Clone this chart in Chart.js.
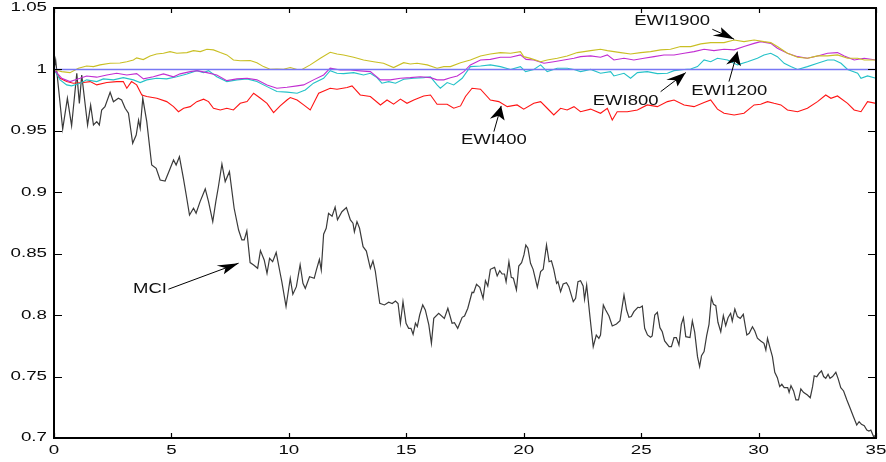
<!DOCTYPE html>
<html>
<head>
<meta charset="utf-8">
<script src="https://cdn.jsdelivr.net/npm/chart.js@4/dist/chart.umd.min.js"></script>
<style>
  html, body { margin: 0; padding: 0; background: #fff; }
  #wrap { width: 886px; height: 462px; position: relative; }
</style>
</head>
<body>
<div id="wrap"><canvas id="c"></canvas></div>
<script>
// Axis ticks
const xTicks = [0, 5, 10, 15, 20, 25, 30, 35];
const xTickLabels = ['0', '5', '10', '15', '20', '25', '30', '35'];
const yTicks = [0.7, 0.75, 0.8, 0.85, 0.9, 0.95, 1, 1.05];
const yTickLabels = ['0.7', '0.75', '0.8', '0.85', '0.9', '0.95', '1', '1.05'];

// Reference level
const refT = [0, 35];
const refV = [1, 1];

// MCI index
const mciT = [0,0.07,0.37,0.57,0.75,0.97,1.08,1.18,1.43,1.56,1.68,1.82,1.93,2.03,2.17,2.39,2.53,2.74,2.88,3.03,3.17,3.35,3.5,3.6,3.67,3.78,3.95,4.16,4.35,4.52,4.73,4.92,5.09,5.2,5.34,5.51,5.63,5.77,5.94,6.05,6.22,6.44,6.58,6.76,6.89,7.0,7.15,7.29,7.47,7.67,7.86,8.0,8.1,8.21,8.35,8.5,8.67,8.79,8.95,9.07,9.18,9.31,9.46,9.63,9.7,9.88,10.06,10.17,10.32,10.48,10.6,10.7,10.88,11.08,11.17,11.3,11.38,11.48,11.59,11.69,11.84,11.97,12.07,12.26,12.45,12.62,12.73,12.79,12.9,13.01,13.16,13.3,13.47,13.58,13.68,13.87,14.07,14.25,14.4,14.54,14.65,14.75,14.86,14.99,15.1,15.2,15.29,15.39,15.47,15.57,15.7,15.81,15.96,16.07,16.17,16.38,16.62,16.77,16.95,17.05,17.19,17.38,17.48,17.62,17.8,17.87,17.99,18.13,18.27,18.37,18.47,18.58,18.76,18.87,18.98,19.08,19.18,19.25,19.37,19.47,19.56,19.69,19.79,19.91,20.01,20.09,20.18,20.29,20.4,20.58,20.72,20.83,20.97,21.08,21.18,21.28,21.4,21.46,21.57,21.68,21.82,21.92,22.11,22.21,22.31,22.42,22.53,22.59,22.68,22.82,22.96,23.09,23.2,23.27,23.39,23.49,23.63,23.77,23.95,24.1,24.27,24.38,24.48,24.58,24.69,24.86,24.94,25.05,25.15,25.27,25.4,25.47,25.58,25.69,25.8,25.9,26.0,26.19,26.29,26.4,26.5,26.61,26.71,26.8,26.9,27.08,27.18,27.28,27.4,27.49,27.57,27.68,27.79,27.89,27.99,28.08,28.18,28.27,28.39,28.5,28.6,28.7,28.81,28.88,28.99,29.1,29.22,29.35,29.5,29.6,29.74,29.84,29.95,30.09,30.23,30.31,30.38,30.49,30.59,30.69,30.8,30.9,30.99,31.09,31.24,31.3,31.38,31.49,31.59,31.7,31.8,31.91,32.08,32.2,32.3,32.37,32.48,32.58,32.68,32.77,32.86,32.96,33.04,33.15,33.29,33.39,33.5,33.62,33.76,33.9,34.04,34.18,34.28,34.38,34.5,34.61,34.7,34.78,34.9,35.0];
const mciV = [1.0,1.0077,0.9515,0.9765,0.9542,0.9968,0.9724,0.9955,0.9548,0.971,0.9548,0.9575,0.9548,0.967,0.9697,0.9814,0.9737,0.9765,0.9751,0.9684,0.9643,0.9399,0.9466,0.9588,0.9521,0.9765,0.9575,0.9222,0.9195,0.91,0.9092,0.9181,0.9263,0.9222,0.929,0.9114,0.8978,0.8815,0.887,0.8829,0.8924,0.9027,0.8924,0.8761,0.8924,0.9045,0.923,0.9087,0.9168,0.887,0.8693,0.8612,0.8612,0.8685,0.8428,0.8408,0.8381,0.8525,0.8449,0.834,0.8463,0.8435,0.851,0.8341,0.8272,0.807,0.83,0.817,0.8232,0.841,0.8259,0.8218,0.8313,0.83,0.8367,0.8453,0.8367,0.8659,0.8707,0.8829,0.8805,0.8879,0.8777,0.8842,0.8875,0.8775,0.8748,0.8679,0.8761,0.8707,0.8557,0.8522,0.8381,0.8441,0.8359,0.8096,0.8083,0.8105,0.8095,0.8115,0.8095,0.7934,0.811,0.7934,0.7893,0.7893,0.7844,0.7934,0.7907,0.8001,0.8083,0.8042,0.792,0.7771,0.7974,0.8015,0.7974,0.8056,0.7934,0.7939,0.7893,0.7982,0.7993,0.8056,0.8186,0.8184,0.8251,0.8227,0.8137,0.8281,0.8237,0.8373,0.8389,0.8319,0.8362,0.8335,0.8335,0.8272,0.8435,0.8308,0.83,0.8205,0.84,0.8427,0.849,0.8571,0.8544,0.8422,0.8373,0.8227,0.8354,0.8373,0.8571,0.8435,0.8443,0.8373,0.8259,0.8273,0.8191,0.8253,0.8264,0.8232,0.811,0.8137,0.8272,0.828,0.8237,0.8129,0.8245,0.7988,0.7743,0.7838,0.7811,0.7838,0.8083,0.8042,0.7993,0.7912,0.7928,0.7955,0.8164,0.8042,0.7982,0.7988,0.8028,0.8064,0.8061,0.8074,0.7893,0.7839,0.782,0.7831,0.8001,0.8023,0.7898,0.7865,0.779,0.7743,0.7743,0.7817,0.7817,0.7757,0.7925,0.7979,0.7825,0.7817,0.7953,0.7861,0.7662,0.7581,0.767,0.7703,0.7833,0.7925,0.8142,0.8088,0.8077,0.7942,0.7865,0.7996,0.7914,0.7979,0.8015,0.7952,0.805,0.7988,0.7974,0.8007,0.7838,0.7852,0.7906,0.7871,0.7812,0.779,0.7771,0.7716,0.7812,0.7731,0.7662,0.7535,0.7491,0.7418,0.7437,0.741,0.741,0.7372,0.7426,0.7383,0.731,0.731,0.7399,0.7372,0.735,0.7328,0.7418,0.7507,0.7499,0.7527,0.7546,0.75,0.7486,0.7518,0.7486,0.75,0.7535,0.7481,0.741,0.7383,0.731,0.7242,0.7173,0.7106,0.7133,0.7111,0.71,0.7065,0.7057,0.7065,0.701,0.7025];

// EWI400
const ewi400T = [0,0.26,0.54,0.82,1.25,1.54,1.82,2.25,2.67,2.95,3.1,3.3,3.52,3.74,3.95,4.38,4.8,5.09,5.3,5.52,5.8,6.08,6.37,6.58,6.79,7.08,7.36,7.64,7.93,8.22,8.5,8.79,9.07,9.35,9.63,9.92,10.06,10.35,10.63,10.91,11.27,11.76,12.05,12.48,12.69,13.04,13.47,13.9,14.18,14.46,14.75,15.03,15.32,15.74,16.03,16.31,16.74,17.02,17.31,17.52,17.8,18.16,18.58,18.94,19.3,19.72,20.0,20.43,20.72,21.0,21.28,21.57,21.85,22.14,22.42,22.85,23.27,23.56,23.77,23.98,24.41,24.84,25.26,25.69,26.12,26.4,26.83,27.25,27.68,27.96,28.25,28.53,28.96,29.38,29.81,30.09,30.38,30.66,30.95,31.23,31.66,32.08,32.51,32.86,33.08,33.36,33.79,34.07,34.36,34.64,35.0];
const ewi400V = [1.0,0.9928,0.9901,0.9888,0.9893,0.9901,0.9874,0.9893,0.9901,0.9901,0.9847,0.9901,0.9874,0.9792,0.978,0.9765,0.9738,0.9697,0.9656,0.9684,0.9697,0.9738,0.9758,0.9738,0.9684,0.967,0.9684,0.967,0.9724,0.9738,0.9806,0.9765,0.9724,0.9648,0.9703,0.9751,0.9771,0.9751,0.9711,0.967,0.9806,0.9847,0.9839,0.9853,0.9866,0.9792,0.978,0.9711,0.9751,0.9717,0.9758,0.9724,0.9751,0.9784,0.9792,0.9717,0.9717,0.9684,0.9703,0.978,0.9847,0.9839,0.9751,0.9738,0.9697,0.9711,0.9677,0.9724,0.9738,0.9684,0.9629,0.9684,0.967,0.9697,0.9656,0.9677,0.9643,0.9684,0.9589,0.9656,0.9656,0.967,0.9711,0.9697,0.9738,0.9751,0.9711,0.9697,0.9731,0.9751,0.9677,0.9643,0.9629,0.9643,0.9711,0.9717,0.9738,0.9724,0.9711,0.967,0.9656,0.9684,0.9738,0.9792,0.9765,0.9784,0.9724,0.967,0.9656,0.9738,0.9724];

// EWI800
const ewi800T = [0,0.26,0.54,0.75,1.11,1.39,1.82,2.1,2.53,2.95,3.38,3.67,3.95,4.37,4.8,5.23,5.66,6.08,6.37,6.58,6.93,7.36,7.79,8.22,8.64,9.07,9.49,9.92,10.35,10.7,11.05,11.48,11.76,12.05,12.33,12.76,13.18,13.47,13.75,13.96,14.25,14.54,14.89,15.32,15.74,16.03,16.31,16.45,16.74,17.02,17.38,17.73,18.16,18.58,19.01,19.44,19.86,20.08,20.43,20.72,21.0,21.43,21.85,22.14,22.42,22.85,23.27,23.7,23.84,24.27,24.55,24.84,25.26,25.69,26.12,26.4,26.83,27.11,27.4,27.68,27.96,28.25,28.68,29.1,29.53,29.95,30.23,30.52,30.8,31.09,31.37,31.66,32.08,32.51,32.94,33.22,33.51,33.79,34.22,34.36,34.64,35.0];
const ewi800V = [1.0,0.9915,0.9874,0.9866,0.9888,0.9915,0.9901,0.9923,0.9915,0.9933,0.9915,0.9893,0.9915,0.9928,0.9923,0.994,0.9962,0.999,0.9974,0.999,0.994,0.9901,0.9915,0.9923,0.9901,0.986,0.982,0.9815,0.9806,0.9833,0.9888,0.9928,0.999,0.9969,0.9966,0.9974,0.9955,0.9969,0.9933,0.9888,0.9901,0.9888,0.992,0.9928,0.9933,0.994,0.9874,0.9847,0.9893,0.9874,0.9928,1.0023,1.0028,1.0037,1.0023,1.0,1.0023,0.9982,1.0,1.0037,0.9982,1.001,1.001,1.0,0.9982,1.0,0.9969,0.9982,0.9947,0.9969,0.9928,0.9974,0.9982,0.9966,0.9969,0.999,1.0,1.0004,1.0023,1.0077,1.0063,1.0091,1.0077,1.0037,1.0063,1.0091,1.0118,1.0132,1.0104,1.005,1.0023,1.0,1.0023,1.005,1.0077,1.0077,1.005,1.0,0.9969,0.9928,0.9947,0.9928];

// EWI1200
const ewi1200T = [0,0.33,0.68,1.11,1.39,1.82,2.25,2.67,3.1,3.52,3.81,4.23,4.66,5.09,5.37,5.8,6.09,6.51,6.93,7.36,7.79,8.22,8.64,9.07,9.49,9.92,10.35,10.63,11.05,11.48,11.76,12.19,12.62,13.04,13.47,13.9,14.32,14.75,15.17,15.6,16.03,16.31,16.6,16.88,17.17,17.45,17.73,18.16,18.58,19.01,19.44,19.86,20.1,20.43,20.86,21.28,21.71,22.14,22.42,22.85,23.27,23.56,23.84,24.27,24.69,25.12,25.55,25.97,26.4,26.83,27.25,27.68,28.1,28.53,28.96,29.38,29.81,30.09,30.52,30.8,31.23,31.66,32.08,32.51,32.94,33.36,33.65,34.07,34.5,35.0];
const ewi1200V = [1.0,0.9928,0.9901,0.9928,0.9947,0.9937,0.9955,0.9969,0.9955,0.9966,0.9923,0.994,0.9964,0.994,0.9964,0.9982,0.999,0.9974,0.9955,0.9909,0.9923,0.9928,0.9915,0.9874,0.9847,0.9855,0.9866,0.9874,0.9915,0.9955,1.001,0.9995,0.9995,0.9988,0.9982,0.9915,0.9915,0.9928,0.9933,0.994,0.9933,0.9915,0.9915,0.9933,0.9947,0.9982,1.0037,1.0077,1.0082,1.0099,1.0099,1.0118,1.0082,1.0077,1.005,1.0063,1.0077,1.0091,1.0104,1.011,1.0099,1.0118,1.0077,1.0091,1.0077,1.0091,1.0104,1.0118,1.0118,1.0132,1.0145,1.0164,1.0153,1.0164,1.0159,1.0186,1.0212,1.0226,1.0212,1.0172,1.0132,1.0104,1.0091,1.011,1.0132,1.0137,1.011,1.0077,1.0091,1.0077];

// EWI1900
const ewi1900T = [0,0.33,0.68,1.04,1.39,1.68,1.96,2.39,2.81,3.1,3.38,3.52,3.8,4.09,4.37,4.66,4.94,5.23,5.66,5.94,6.23,6.51,6.79,7.08,7.36,7.64,7.93,8.35,8.64,8.92,9.2,9.49,9.77,10.06,10.35,10.56,10.91,11.34,11.76,12.05,12.33,12.76,13.18,13.61,14.03,14.46,14.89,15.17,15.46,15.89,16.31,16.6,16.88,17.31,17.73,18.16,18.58,19.01,19.44,19.86,20.0,20.29,20.72,21.0,21.43,21.85,22.28,22.57,22.85,23.27,23.56,24.13,24.55,24.98,25.4,25.83,26.25,26.68,27.11,27.54,27.96,28.53,28.96,29.38,29.81,30.23,30.52,30.8,31.23,31.66,32.08,32.51,32.94,33.36,33.79,34.22,34.5,35.0];
const ewi1900V = [1.0,0.9982,0.9974,1.001,1.0028,1.0023,1.0037,1.005,1.0052,1.0063,1.0077,1.0094,1.008,1.011,1.0125,1.0132,1.0145,1.0132,1.0137,1.0153,1.0145,1.0164,1.0159,1.0137,1.0118,1.0077,1.0071,1.0072,1.0055,1.0023,1.0002,1.0004,1.0002,1.0015,1.0,1.0,1.0037,1.0091,1.014,1.0125,1.0118,1.0099,1.0077,1.0063,1.005,1.0015,1.0055,1.0044,1.005,1.0037,1.001,1.0023,1.0023,1.0055,1.0077,1.011,1.0126,1.0137,1.0132,1.0145,1.0104,1.009,1.0063,1.0077,1.0091,1.011,1.0137,1.0145,1.0153,1.0164,1.0153,1.0137,1.0126,1.0137,1.0145,1.0159,1.0164,1.0186,1.0186,1.0208,1.0218,1.0218,1.024,1.0226,1.024,1.0226,1.0218,1.0186,1.0132,1.0099,1.0091,1.011,1.011,1.0118,1.0091,1.0091,1.0077,1.0077];

// Callout labels: text anchor and arrow (tail -> head), in data units
const callouts = [
  { text: 'EWI1900', tx: 26.32, ty: 1.0395, ax: 28.03, ay: 1.0327, bx: 28.96, by: 1.0246 },
  { text: 'EWI1200', tx: 28.75, ty: 0.9825, ax: 28.74, ay: 0.9901, bx: 29.10, by: 1.0145 },
  { text: 'EWI800',  tx: 24.34, ty: 0.9744, ax: 25.83, ay: 0.9819, bx: 26.90, by: 0.9974 },
  { text: 'EWI400',  tx: 18.73, ty: 0.9426, ax: 18.73, ay: 0.9494, bx: 19.04, by: 0.9703 },
  { text: 'MCI',     tx: 4.09,  ty: 0.8213, ax: 4.87,  ay: 0.8211, bx: 7.86,  by: 0.8423 }
];

const toPoints = (t, v) => t.map((x, i) => ({ x, y: v[i] }));

const FONT = '"Liberation Sans", Arial, Helvetica, sans-serif';
const STRETCH_TICK = 1.5;
const STRETCH_NOTE = 1.32;

function wideText(ctx, text, px, py, align, sx) {
  ctx.save();
  ctx.translate(px, py);
  ctx.scale(sx, 1);
  ctx.textAlign = align;
  ctx.fillText(text, 0, 0);
  ctx.restore();
}

function arrow(ctx, x1, y1, x2, y2, sx) {
  ctx.beginPath();
  ctx.moveTo(x1, y1);
  ctx.lineTo(x2, y2);
  ctx.stroke();
  // arrowhead built in unstretched space, then widened horizontally
  let dx = (x2 - x1) / sx, dy = y2 - y1;
  const len = Math.hypot(dx, dy);
  dx /= len; dy /= len;
  const L = 14, W = 5, N = 10;
  const nx = -dy, ny = dx;
  const pts = [
    [0, 0],
    [-dx * L + nx * W, -dy * L + ny * W],
    [-dx * N, -dy * N],
    [-dx * L - nx * W, -dy * L - ny * W]
  ];
  ctx.beginPath();
  pts.forEach(([px, py], i) => {
    const X = x2 + px * sx, Y = y2 + py;
    if (i === 0) ctx.moveTo(X, Y); else ctx.lineTo(X, Y);
  });
  ctx.closePath();
  ctx.fill();
}

const framePlugin = {
  id: 'frame',
  afterDatasetsDraw(chart) {
    const { ctx, chartArea: a, scales: { x, y } } = chart;
    ctx.save();
    ctx.strokeStyle = '#000';
    ctx.lineWidth = 2;
    ctx.strokeRect(a.left, a.top, a.right - a.left, a.bottom - a.top);

    ctx.lineWidth = 1.2;
    ctx.beginPath();
    xTicks.forEach(v => {
      const px = Math.round(x.getPixelForValue(v)) + 0.5;
      ctx.moveTo(px, a.bottom); ctx.lineTo(px, a.bottom - 5);
      ctx.moveTo(px, a.top); ctx.lineTo(px, a.top + 5);
    });
    yTicks.forEach(v => {
      const py = Math.round(y.getPixelForValue(v)) + 0.5;
      ctx.moveTo(a.left, py); ctx.lineTo(a.left + 8, py);
      ctx.moveTo(a.right, py); ctx.lineTo(a.right - 8, py);
    });
    ctx.stroke();

    ctx.fillStyle = '#0a0a0a';
    ctx.font = '12.5px ' + FONT;
    ctx.textBaseline = 'middle';
    yTicks.forEach((v, i) => wideText(ctx, yTickLabels[i], a.left - 7, y.getPixelForValue(v), 'right', STRETCH_TICK));
    xTicks.forEach((v, i) => wideText(ctx, xTickLabels[i], x.getPixelForValue(v), a.bottom + 13, 'center', STRETCH_TICK));

    ctx.font = '14px ' + FONT;
    ctx.strokeStyle = '#000';
    ctx.lineWidth = 1;
    callouts.forEach(c => {
      ctx.fillStyle = '#111';
      wideText(ctx, c.text, x.getPixelForValue(c.tx), y.getPixelForValue(c.ty), 'center', STRETCH_NOTE);
      ctx.fillStyle = '#000';
      arrow(ctx, x.getPixelForValue(c.ax), y.getPixelForValue(c.ay),
                 x.getPixelForValue(c.bx), y.getPixelForValue(c.by), STRETCH_TICK);
    });
    ctx.restore();
  }
};

const line = (label, t, v, color, order, width) => ({
  label, data: toPoints(t, v), borderColor: color, backgroundColor: color,
  borderWidth: width, pointRadius: 0, tension: 0, fill: false, order
});

new Chart(document.getElementById('c'), {
  type: 'line',
  data: {
    datasets: [
      line('Level', refT, refV, '#7878f4', 0, 1.6),
      line('EWI1900', ewi1900T, ewi1900V, '#c9bf24', 1, 1.1),
      line('EWI1200', ewi1200T, ewi1200V, '#c22ed2', 2, 1.1),
      line('EWI800', ewi800T, ewi800V, '#24c2c8', 3, 1.1),
      line('EWI400', ewi400T, ewi400V, '#ff1414', 4, 1.1),
      line('MCI', mciT, mciV, '#3a3a3a', 5, 1.2)
    ]
  },
  options: {
    responsive: true,
    maintainAspectRatio: false,
    animation: false,
    layout: { padding: { left: 54, right: 10, top: 8, bottom: 24 } },
    plugins: { legend: { display: false }, tooltip: { enabled: false } },
    scales: {
      x: { type: 'linear', min: 0, max: 35, display: false },
      y: { type: 'linear', min: 0.7, max: 1.05, display: false }
    }
  },
  plugins: [framePlugin]
});
</script>
</body>
</html>
